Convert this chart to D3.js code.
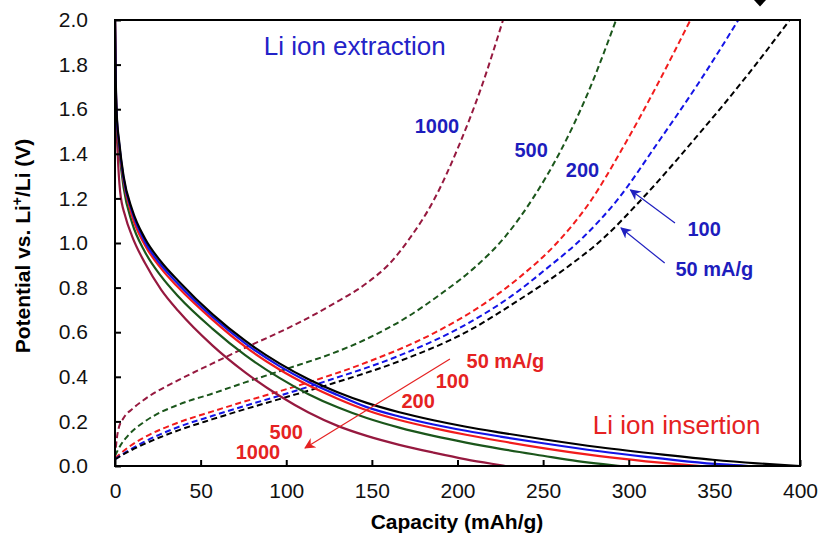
<!DOCTYPE html>
<html>
<head>
<meta charset="utf-8">
<script src="https://cdn.jsdelivr.net/npm/d3@7/dist/d3.min.js"></script>
<style>
  html, body { margin: 0; padding: 0; background: #fff; }
  svg { display: block; font-family: "Liberation Sans", Arial, sans-serif; }
</style>
</head>
<body>
<svg id="chart" width="820" height="541"></svg>
<script>
// Current rates (mA/g)
const rates = ["50", "100", "200", "500", "1000"];

// Li ion insertion (discharge): [capacity mAh/g, potential V]
const insertion50 = [[0,2.0],[0.3,1.8],[1,1.58],[2.5,1.45],[5,1.3],[10,1.15],[17.5,1.02],[27,0.915],[37,0.83],[57,0.68],[76,0.562],[96,0.46],[113,0.389],[130,0.331],[147,0.283],[166,0.241],[186,0.205],[205,0.176],[225,0.15],[250,0.12],[283,0.084],[320,0.051],[349,0.028],[375,0.012],[400,0.0]];
const insertion100 = [[0,2.0],[0.3,1.79],[1,1.57],[2.5,1.44],[5,1.29],[10,1.14],[17.5,1.005],[27,0.90],[37,0.815],[57,0.668],[76,0.55],[96,0.448],[113,0.377],[130,0.318],[147,0.264],[166,0.222],[186,0.186],[205,0.158],[225,0.132],[250,0.102],[283,0.066],[310,0.041],[335,0.02],[355,0.007],[370,0.0]];
const insertion200 = [[0,2.0],[0.3,1.78],[1,1.56],[2.5,1.43],[5,1.28],[10,1.12],[17.5,0.99],[27,0.885],[37,0.80],[57,0.655],[76,0.535],[96,0.433],[113,0.362],[130,0.302],[147,0.25],[166,0.206],[186,0.17],[205,0.14],[225,0.112],[250,0.08],[283,0.044],[310,0.021],[330,0.007],[342,0.0]];
const insertion500 = [[0,2.0],[0.3,1.76],[1,1.54],[2.5,1.41],[5,1.25],[10,1.09],[17.5,0.96],[27,0.85],[37,0.76],[57,0.615],[76,0.497],[96,0.395],[113,0.322],[130,0.263],[147,0.215],[166,0.172],[186,0.135],[205,0.105],[225,0.077],[250,0.046],[270,0.022],[285,0.008],[295,0.0]];
const insertion1000 = [[0,2.0],[0.2,1.8],[0.6,1.6],[1.5,1.41],[3,1.23],[6,1.12],[10,1.03],[17.5,0.91],[27,0.79],[37,0.695],[57,0.54],[76,0.42],[96,0.315],[113,0.24],[130,0.18],[147,0.135],[166,0.095],[186,0.06],[205,0.03],[220,0.01],[228,0.0]];

// Li ion extraction (charge): [capacity mAh/g, potential V]
const extraction50 = [[0,0.03],[8,0.065],[17.5,0.10],[37,0.16],[57,0.21],[76,0.255],[96,0.30],[127,0.37],[166,0.47],[205,0.60],[236,0.745],[262,0.88],[285,1.02],[308,1.2],[340,1.48],[368,1.74],[394,2.0]];
const extraction100 = [[0,0.03],[8,0.07],[17.5,0.11],[37,0.175],[57,0.225],[76,0.27],[96,0.315],[127,0.39],[166,0.495],[205,0.635],[232,0.765],[252,0.885],[274,1.03],[293,1.19],[317,1.45],[341,1.72],[364,2.0]];
const extraction200 = [[0,0.035],[8,0.085],[17.5,0.13],[37,0.195],[57,0.245],[76,0.29],[96,0.335],[113,0.375],[147,0.465],[186,0.595],[217,0.735],[236,0.845],[258,1.0],[277,1.18],[296,1.42],[316,1.70],[336,2.0]];
const extraction500 = [[0,0.045],[3,0.09],[8,0.14],[17.5,0.2],[37,0.275],[57,0.325],[76,0.375],[96,0.425],[108,0.455],[127,0.505],[147,0.57],[170,0.665],[190,0.77],[210,0.89],[228,1.03],[244,1.20],[260,1.41],[276,1.67],[292.6,2.0]];
const extraction1000 = [[0,0.04],[1,0.12],[2,0.165],[5,0.215],[10,0.255],[17.5,0.30],[37,0.385],[57,0.46],[76,0.53],[96,0.60],[108,0.645],[127,0.725],[147,0.82],[160,0.905],[172,1.02],[186,1.19],[201,1.44],[214,1.70],[226.6,2.0]];

// Axis ticks
const capacityTicks = [0, 50, 100, 150, 200, 250, 300, 350, 400];
const potentialTicks = [0.0, 0.2, 0.4, 0.6, 0.8, 1.0, 1.2, 1.4, 1.6, 1.8, 2.0];

// Series lookup by rate
const insertionByRate = { "50": insertion50, "100": insertion100, "200": insertion200, "500": insertion500, "1000": insertion1000 };
const extractionByRate = { "50": extraction50, "100": extraction100, "200": extraction200, "500": extraction500, "1000": extraction1000 };
const rateColor = { "50": "#000000", "100": "#1414e6", "200": "#f21c1c", "500": "#1b561b", "1000": "#96193f" };

const svg = d3.select("#chart");
const x = d3.scaleLinear().domain([0, 400]).range([115, 800]);
const y = d3.scaleLinear().domain([0, 2]).range([466, 20]);

const defs = svg.append("defs");
defs.append("clipPath").attr("id", "plotClip")
  .append("rect").attr("x", 115).attr("y", 20).attr("width", 685).attr("height", 446);

function arrowMarker(id, color) {
  defs.append("marker")
    .attr("id", id).attr("viewBox", "0 0 10 10")
    .attr("refX", 9).attr("refY", 5)
    .attr("markerWidth", 11).attr("markerHeight", 11)
    .attr("markerUnits", "userSpaceOnUse")
    .attr("orient", "auto")
    .append("path").attr("d", "M0,0 L10,5 L0,10 L3,5 Z").attr("fill", color);
}
arrowMarker("arrowBlue", "#2020c0");
arrowMarker("arrowRed", "#e52222");

const line = d3.line()
  .x(d => x(d[0]))
  .y(d => y(d[1]))
  .curve(d3.curveMonotoneX);

const curves = svg.append("g").attr("clip-path", "url(#plotClip)");
const drawOrder = rates.slice().reverse();

// charge curves (dashed)
drawOrder.forEach(r => {
  curves.append("path")
    .datum(extractionByRate[r])
    .attr("d", line)
    .attr("fill", "none")
    .attr("stroke", rateColor[r])
    .attr("stroke-width", 2)
    .attr("stroke-dasharray", "6,3.5");
});

// discharge curves (solid)
drawOrder.forEach(r => {
  curves.append("path")
    .datum(insertionByRate[r])
    .attr("d", line)
    .attr("fill", "none")
    .attr("stroke", rateColor[r])
    .attr("stroke-width", 2.2);
});

// axes
const xAxis = d3.axisBottom(x).tickValues(capacityTicks).tickFormat(d3.format("d"))
  .tickSizeInner(-6).tickSizeOuter(0).tickPadding(17);
const yAxis = d3.axisLeft(y).tickValues(potentialTicks).tickFormat(d3.format(".1f"))
  .tickSizeInner(-6).tickSizeOuter(0).tickPadding(27);

const gx = svg.append("g").attr("transform", "translate(0,466)").call(xAxis);
const gy = svg.append("g").attr("transform", "translate(115,0)").call(yAxis);
[gx, gy].forEach(g => {
  g.select(".domain").remove();
  g.selectAll(".tick line").attr("stroke", "#000").attr("stroke-width", 2);
  g.selectAll(".tick text").attr("fill", "#111").style("font-size", "21px")
    .style("font-family", "'Liberation Sans', Arial, sans-serif");
});

// plot frame
svg.append("rect")
  .attr("x", 115).attr("y", 20).attr("width", 685).attr("height", 446)
  .attr("fill", "none").attr("stroke", "#000").attr("stroke-width", 2);

// axis titles
svg.append("text")
  .attr("x", 457).attr("y", 529)
  .attr("text-anchor", "middle")
  .style("font-size", "21px").style("font-weight", "bold")
  .text("Capacity (mAh/g)");

const yTitle = svg.append("text")
  .attr("transform", "translate(30,246) rotate(-90)")
  .attr("text-anchor", "middle")
  .style("font-size", "21px").style("font-weight", "bold");
yTitle.append("tspan").text("Potential vs. Li");
yTitle.append("tspan").attr("dy", -8).style("font-size", "14px").text("+");
yTitle.append("tspan").attr("dy", 8).text("/Li (V)");

// region titles
svg.append("text")
  .attr("x", x(140)).attr("y", y(1.883)).attr("dy", "0.35em")
  .attr("text-anchor", "middle").attr("fill", "#2323c8")
  .style("font-size", "26px")
  .text("Li ion extraction");
svg.append("text")
  .attr("x", x(328)).attr("y", y(0.184)).attr("dy", "0.35em")
  .attr("text-anchor", "middle").attr("fill", "#e52222")
  .style("font-size", "26px")
  .text("Li ion insertion");

// rate labels for the charge curves
const extractionLabels = [
  { text: "1000", cap: 188, v: 1.525 },
  { text: "500", cap: 243, v: 1.417 },
  { text: "200", cap: 273, v: 1.327 },
  { text: "100", cap: 344, v: 1.063 },
  { text: "50 mA/g", cap: 350, v: 0.883 }
];
svg.selectAll("text.extLabel").data(extractionLabels).join("text")
  .attr("class", "extLabel")
  .attr("x", d => x(d.cap)).attr("y", d => y(d.v)).attr("dy", "0.35em")
  .attr("text-anchor", "middle").attr("fill", "#1d1dbd")
  .style("font-size", "20px").style("font-weight", "bold")
  .text(d => d.text);

// rate labels for the discharge curves
const insertionLabels = [
  { text: "50 mA/g", cap: 228, v: 0.471 },
  { text: "100", cap: 197, v: 0.381 },
  { text: "200", cap: 177, v: 0.291 },
  { text: "500", cap: 100, v: 0.152 },
  { text: "1000", cap: 83.5, v: 0.063 }
];
svg.selectAll("text.insLabel").data(insertionLabels).join("text")
  .attr("class", "insLabel")
  .attr("x", d => x(d.cap)).attr("y", d => y(d.v)).attr("dy", "0.35em")
  .attr("text-anchor", "middle").attr("fill", "#e52222")
  .style("font-size", "20px").style("font-weight", "bold")
  .text(d => d.text);

// pointer arrows
const arrows = [
  { from: [327, 1.09], to: [301, 1.238], marker: "arrowBlue", color: "#2020c0" },
  { from: [321, 0.91], to: [295.5, 1.067], marker: "arrowBlue", color: "#2020c0" },
  { from: [195.6, 0.48], to: [111, 0.081], marker: "arrowRed", color: "#e52222" }
];
svg.selectAll("line.pointer").data(arrows).join("line")
  .attr("class", "pointer")
  .attr("x1", d => x(d.from[0])).attr("y1", d => y(d.from[1]))
  .attr("x2", d => x(d.to[0])).attr("y2", d => y(d.to[1]))
  .attr("stroke", d => d.color).attr("stroke-width", 1.2)
  .attr("marker-end", d => `url(#${d.marker})`);

// small diamond glyph above the frame
const diamond = d3.path();
diamond.moveTo(754, 0);
diamond.lineTo(760, 6.5);
diamond.lineTo(766, 0);
diamond.lineTo(760, -6.5);
diamond.closePath();
svg.append("path").attr("d", diamond.toString()).attr("fill", "#000");
</script>
</body>
</html>
